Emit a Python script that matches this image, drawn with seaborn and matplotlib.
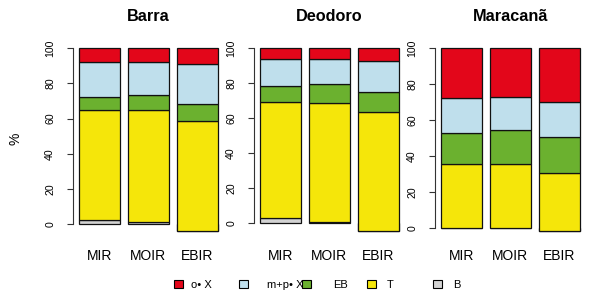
import numpy as np
import pandas as pd
import matplotlib
matplotlib.use('Agg')
import matplotlib.pyplot as plt
from matplotlib.patches import Patch
import seaborn as sns

# Data
sites = ['Barra', 'Deodoro', 'Maracanã']
methods = ['MIR', 'MOIR', 'EBIR']
layers = ['B', 'T', 'EB', 'm+p• X', 'o• X']   # bottom -> top

# values per layer, order: Barra MIR/MOIR/EBIR, Deodoro ..., Maracanã ...
B_vals = [2.4, 1.1, -3.7, 2.9, 0.6, -4.6, 0.4, 0.0, -1.3]
T_vals = [62.5, 63.8, 62.6, 66.4, 68.1, 67.9, 35.5, 35.8, 32.0]
EB_vals = [7.4, 8.4, 9.5, 9.2, 10.6, 11.9, 17.2, 18.8, 20.1]
MP_vals = [19.8, 18.8, 22.4, 15.4, 14.6, 17.5, 19.2, 18.2, 19.6]
O_vals = [7.9, 7.9, 9.2, 6.1, 6.1, 7.3, 27.7, 27.2, 29.6]

layer_colors = ['#D3D3D3', '#F5E60A', '#6BB12F', '#BFDFEC', '#E3061A']

df = pd.DataFrame({
    'site': np.repeat(sites, len(methods)),
    'method': methods * len(sites),
    'B': B_vals, 'T': T_vals, 'EB': EB_vals, 'm+p• X': MP_vals, 'o• X': O_vals,
})

sns.set_style('white')
plt.rcParams['font.family'] = ['Liberation Sans', 'DejaVu Sans']
plt.rcParams['text.color'] = 'black'
plt.rcParams['xtick.color'] = 'black'
plt.rcParams['ytick.color'] = 'black'
plt.rcParams['axes.labelcolor'] = 'black'

W, H = 592, 298
fig = plt.figure(figsize=(W / 100, H / 100), dpi=100)

edge = '#111111'
panel_left = [73, 254, 435]   # px
for site, x0 in zip(sites, panel_left):
    ax = fig.add_axes([x0 / W, (H - 238) / H, 150.6 / W, 197 / H])
    d = df[df['site'] == site]
    bottom = np.zeros(len(methods))
    for layer, col in zip(layers, layer_colors):
        n0 = len(ax.patches)
        sns.barplot(data=d, x='method', y=layer, order=methods, color=col,
                    saturation=1, width=1 / 1.2, errorbar=None,
                    edgecolor=edge, linewidth=0.9, ax=ax)
        # stack this layer on top of the previous ones
        for p, b in zip(ax.patches[n0:], bottom):
            p.set_y(b)
        bottom += d[layer].values

    # R-style limits: data range with 4% padding
    lo = min(d['B'].min(), 0)
    span = 100 - lo
    ax.set_ylim(lo - 0.04 * span, 100 + 0.04 * span)
    ax.set_xlim(-0.53, 2.53)

    ax.set_xlabel('')
    ax.set_ylabel('')
    ax.set_title(site, fontsize=11.7, fontweight='bold', pad=14.4)
    for s in ['top', 'right', 'bottom']:
        ax.spines[s].set_visible(False)
    ax.spines['left'].set_bounds(0, 100)
    ax.spines['left'].set_color('#333333')
    ax.spines['left'].set_linewidth(0.8)
    ax.set_yticks([0, 20, 40, 60, 80, 100])
    ax.tick_params(axis='y', length=4.3, width=0.8, color='#333333',
                   labelsize=7.6, pad=8.5, labelrotation=90, left=True)
    for t in ax.get_yticklabels():
        t.set_va('center')
    ax.tick_params(axis='x', length=0, labelsize=10, pad=8)

fig.text(15 / W, (H - 139) / H, '%', rotation=90, ha='center', va='center',
         fontsize=10)

# legend: one entry per slot like the R horizontal legend
legend_order = ['o• X', 'm+p• X', 'EB', 'T', 'B']
legend_x = [174, 239, 302, 367, 433]          # square start, px
legend_gap = [0.73, 1.72, 2.0, 1.0, 1.0]       # square-to-text pad
for lab, lx, gap in zip(legend_order, legend_x, legend_gap):
    col = layer_colors[layers.index(lab)]
    fig.legend(handles=[Patch(facecolor=col, edgecolor='black', linewidth=0.8)],
               labels=[lab], loc='center left',
               bbox_to_anchor=(lx / W, (H - 284.7) / H),
               frameon=False, fontsize=8, borderpad=0, borderaxespad=0,
               handlelength=0.8, handleheight=0.8, handletextpad=gap)

fig.savefig('out.png', dpi=100)
